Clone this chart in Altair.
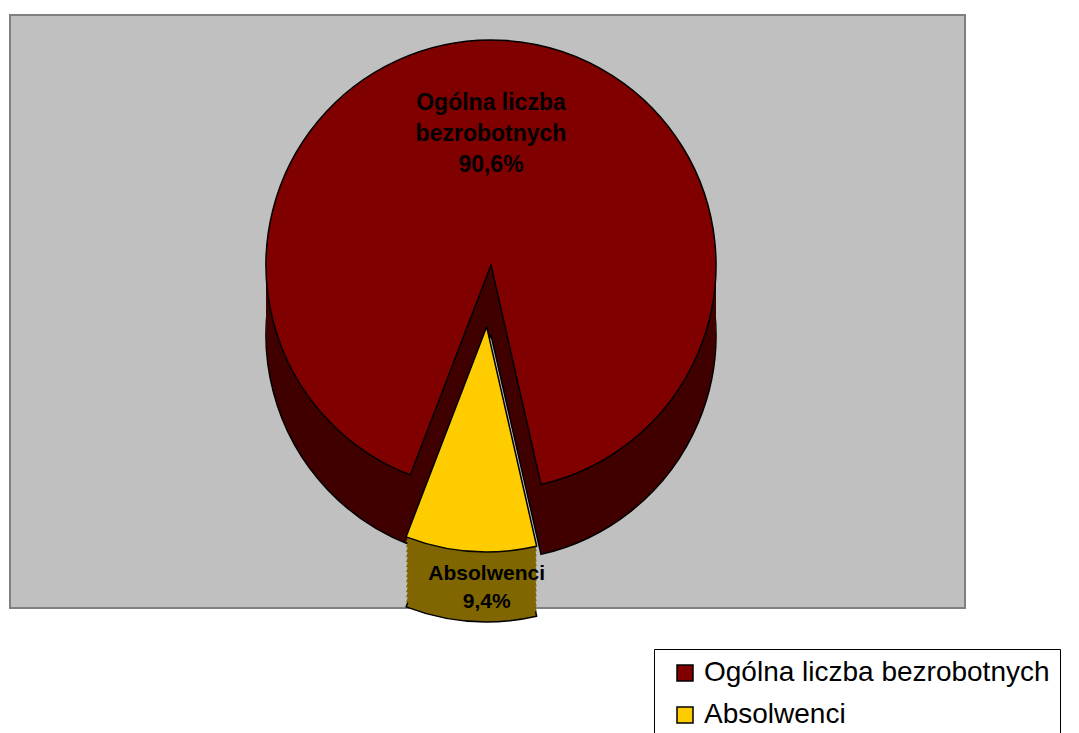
import math
import altair as alt
import pandas as pd

# ---- data ----
categories = ["Ogólna liczba bezrobotnych", "Absolwenci"]
shares = [90.6, 9.4]
label_names = ["Ogólna liczba\nbezrobotnych", "Absolwenci"]
top_colors = ["#800000", "#FFCC00"]
side_colors = ["#400000", "#806600"]

df = pd.DataFrame({
    "category": categories,
    "share": shares,
    "name": label_names,
    "order": list(range(len(categories))),
})
df["label"] = [f"{n}\n{('%.1f' % v).replace('.', ',')}%" for n, v in zip(label_names, shares)]

FONT = "Liberation Sans"
R = 225           # pie radius
DEPTH = 70        # thickness of the 3D side
CX, CY = 481, 250  # pie centre in view coordinates
START = math.radians(201)
EXPLODE = 62

theta_scale = alt.Scale(domain=[0, 100], range=[START, START + 2 * math.pi])
color_scale = alt.Scale(domain=categories, range=top_colors)

base = (
    alt.Chart(df)
    .transform_window(cum="sum(share)", sort=[alt.SortField("order")])
    .transform_calculate(start="datum.cum - datum.share")
)


def slice_layer(cat, cx, cy, fill=None, stroke=False, legend=False):
    kw = dict(radius=R)
    if stroke:
        kw.update(stroke="black", strokeWidth=1.5, strokeJoin="round")
    if fill is not None:
        kw.update(fill=fill)
    enc = dict(
        theta=alt.Theta("start:Q", scale=theta_scale),
        theta2="cum:Q",
        x=alt.value(cx),
        y=alt.value(cy),
    )
    if fill is None:
        enc["color"] = alt.Color(
            "category:N",
            scale=color_scale,
            legend=alt.Legend(
                orient="none", legendX=644, legendY=634, title=None,
                symbolType="square", symbolSize=256, symbolOffset=7,
                symbolStrokeColor="black", symbolStrokeWidth=1.5,
                labelFont=FONT, labelFontSize=28, labelColor="black",
                labelOffset=5, rowPadding=14, padding=10,
                fillColor="white", strokeColor="black",
                labelLimit=600,
            ) if legend else None,
        )
    return base.transform_filter(alt.datum.category == cat).mark_arc(**kw).encode(**enc)


layers = []
# big slice: side then top
for k in range(DEPTH, 0, -5):
    layers.append(slice_layer(categories[0], CX, CY + k, fill=side_colors[0], stroke=(k == DEPTH)))
layers.append(slice_layer(categories[0], CX, CY, stroke=True, legend=True))

# exploded small slice (mid angle ~184 deg)
mid = math.radians(184)
ex_x = CX + EXPLODE * math.sin(mid)
ex_y = CY - EXPLODE * math.cos(mid)
for k in range(DEPTH, 0, -5):
    layers.append(slice_layer(categories[1], ex_x, ex_y + k, fill=side_colors[1], stroke=(k == DEPTH)))
layers.append(slice_layer(categories[1], ex_x, ex_y, stroke=True, legend=True))

# labels (y is the first line's position)
text_kw = dict(font=FONT, fontSize=23, fontWeight="bold", color="black",
               align="center", baseline="middle", lineBreak="\n", lineHeight=31)
label_big = (
    alt.Chart(df).transform_filter(alt.datum.category == categories[0])
    .mark_text(**text_kw)
    .encode(text="label:N", x=alt.value(CX), y=alt.value(88))
)
label_small = (
    alt.Chart(df).transform_filter(alt.datum.category == categories[1])
    .mark_text(**{**text_kw, "fontSize": 21, "lineHeight": 28})
    .encode(text="label:N", x=alt.value(ex_x), y=alt.value(ex_y + R + 22))
)
layers += [label_big, label_small]

chart = (
    alt.layer(*layers)
    .properties(width=955, height=593, padding={"left": 2, "top": 7, "right": 0, "bottom": 0})
    .configure_view(fill="#C0C0C0", stroke="#808080", strokeWidth=2)
    .configure_text(font=FONT)
)

chart.save("out.html", embed_options={"renderer": "svg", "actions": False})
